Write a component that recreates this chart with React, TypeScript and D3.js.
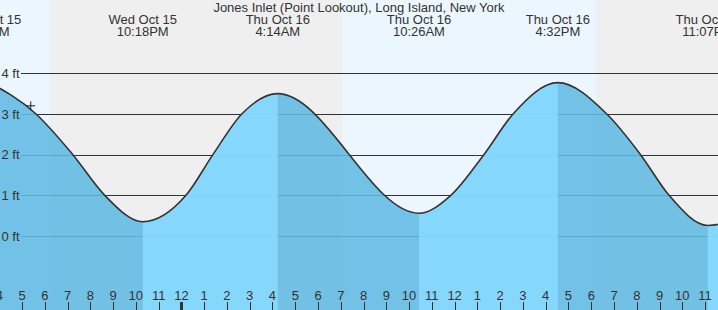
import React, { useEffect } from "react";
import * as d3 from "d3";

const TITLE = "Jones Inlet (Point Lookout), Long Island, New York";
const WIDTH = 718;
const HEIGHT = 310;

// chart window
const domainTimes = ["2025-10-15T16:02", "2025-10-16T23:34"];

// high / low tides
const extremeTimes = [
  "2025-10-15T15:28",
  "2025-10-15T22:18",
  "2025-10-16T04:14",
  "2025-10-16T10:26",
  "2025-10-16T16:32",
  "2025-10-16T23:07",
  "2025-10-17T05:20",
];
const extremeHeights = [3.8, 0.35, 3.5, 0.56, 3.77, 0.26, 3.45];

// intermediate heights
const readTimes = [
  "2025-10-15T17:37",
  "2025-10-15T19:14",
  "2025-10-15T20:38",
  "2025-10-16T00:12",
  "2025-10-16T01:23",
  "2025-10-16T02:39",
  "2025-10-16T11:50",
  "2025-10-16T13:17",
  "2025-10-16T14:34",
  "2025-10-16T18:41",
  "2025-10-16T20:10",
  "2025-10-16T21:25",
];
const readHeights = [3.0, 2.0, 1.0, 1.0, 2.0, 3.0, 1.0, 2.0, 3.0, 3.0, 2.0, 1.0];

// sunrise / sunset
const sunsetTimes = ["2025-10-15T18:13", "2025-10-16T18:12"];
const sunriseTimes = ["2025-10-16T07:03"];

const yTicks = [0, 1, 2, 3, 4];
const nowTime = "2025-10-15T17:23";
const nowHeight = 3.2;

const parse = d3.utcParse("%Y-%m-%dT%H:%M");
const fmtDay = d3.utcFormat("%a %b %-d");
const fmtTime = d3.utcFormat("%-I:%M%p");

const FONT = "'Liberation Sans', Arial, Helvetica, sans-serif";
const TEXT = "#333";

export default function App() {
  useEffect(() => {
    document.body.style.margin = "0";
  }, []);

  const d0 = parse(domainTimes[0])!;
  const d1 = parse(domainTimes[1])!;
  const x = d3.scaleUtc().domain([d0, d1]).range([0, WIDTH]);
  const y = d3.scaleLinear().domain([0, 4]).range([236, 73.3]);

  const extremes = extremeTimes.map((t, i) => ({ t: parse(t)!, h: extremeHeights[i] }));
  const points = extremes
    .concat(readTimes.map((t, i) => ({ t: parse(t)!, h: readHeights[i] })))
    .sort((a, b) => +a.t - +b.t);

  const area = d3
    .area<{ t: Date; h: number }>()
    .x((d) => x(d.t))
    .y0(HEIGHT)
    .y1((d) => y(d.h))
    .curve(d3.curveMonotoneX);
  const line = d3
    .line<{ t: Date; h: number }>()
    .x((d) => x(d.t))
    .y((d) => y(d.h))
    .curve(d3.curveMonotoneX);

  // day / night bands
  const sunrises = sunriseTimes.map((t) => parse(t)!);
  const sunsets = sunsetTimes.map((t) => parse(t)!);
  const dayBands: [Date, Date][] = [
    [d0, sunsets[0]],
    [sunrises[0], sunsets[1]],
  ];

  // rising segments
  const rising: [Date, Date][] = [];
  for (let i = 0; i < extremes.length - 1; i++) {
    if (extremes[i + 1].h > extremes[i].h) rising.push([extremes[i].t, extremes[i + 1].t]);
  }

  const hours = d3.utcHour.range(d3.utcHour.floor(d0), d3.utcHour.ceil(d1));
  const nowT = parse(nowTime)!;

  return (
    <svg
      width={WIDTH}
      height={HEIGHT}
      style={{ position: "absolute", left: 0, top: 0, display: "block" }}
      fontFamily={FONT}
    >
      <defs>
        {rising.map((r, i) => (
          <clipPath id={`rise-${i}`} key={i}>
            <rect x={x(r[0])} y={0} width={x(r[1]) - x(r[0])} height={HEIGHT} />
          </clipPath>
        ))}
      </defs>
      <rect x={0} y={0} width={WIDTH} height={HEIGHT} fill="#efefef" />
      {dayBands.map((b, i) => (
        <rect key={i} x={x(b[0])} y={0} width={x(b[1]) - x(b[0])} height={HEIGHT} fill="#ecf6ff" />
      ))}

      {yTicks.map((v) => (
        <line
          key={v}
          x1={21}
          x2={WIDTH}
          y1={Math.round(y(v)) + 0.5}
          y2={Math.round(y(v)) + 0.5}
          stroke="#333"
          strokeWidth={1}
        />
      ))}

      <path d={area(points)!} fill="#61bae3" fillOpacity={0.88} />
      {rising.map((r, i) => (
        <path key={i} d={area(points)!} fill="#89d9ff" fillOpacity={0.88} clipPath={`url(#rise-${i})`} />
      ))}
      <path d={line(points)!} fill="none" stroke="#333" strokeWidth={1.6} />

      {yTicks.map((v) => (
        <text key={v} x={19.5} y={y(v) + 4.6} textAnchor="end" fontSize={13} fill={TEXT}>
          {`${v} ft`}
        </text>
      ))}

      <text x={WIDTH / 2} y={12} textAnchor="middle" fontSize={13} fill={TEXT}>
        {TITLE}
      </text>

      {extremes.map((e, i) => (
        <g key={i} fill={TEXT} fontSize={13} textAnchor="middle">
          <text x={x(e.t)} y={24}>
            {fmtDay(e.t)}
          </text>
          <text x={x(e.t)} y={36}>
            {fmtTime(e.t)}
          </text>
        </g>
      ))}

      {hours.map((h, i) => {
        const hr = h.getUTCHours();
        const px = Math.round(x(h)) + 0.5;
        return (
          <g key={i}>
            <line x1={px} x2={px} y1={302} y2={HEIGHT} stroke="#333" strokeWidth={hr === 0 ? 3 : 1} />
            <text x={x(h)} y={300} textAnchor="middle" fontSize={13} fill={TEXT}>
              {String(hr % 12 === 0 ? 12 : hr % 12)}
            </text>
          </g>
        );
      })}

      <g stroke="#222" strokeWidth={1}>
        <line x1={x(nowT) - 4.5} x2={x(nowT) + 4.5} y1={y(nowHeight)} y2={y(nowHeight)} />
        <line x1={x(nowT)} x2={x(nowT)} y1={y(nowHeight) - 4.5} y2={y(nowHeight) + 4.5} />
      </g>
    </svg>
  );
}
